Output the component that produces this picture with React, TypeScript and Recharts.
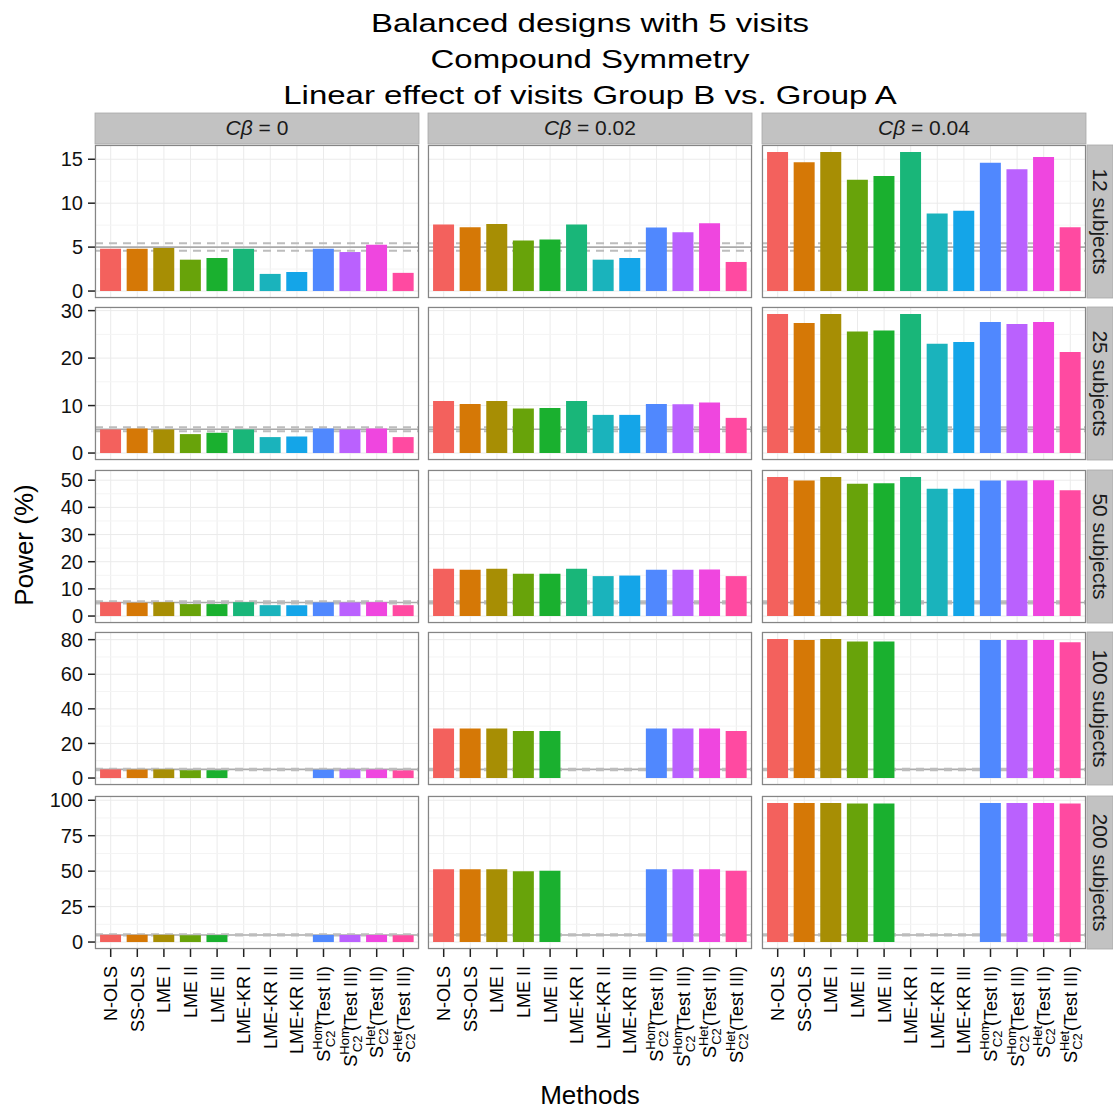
import React from 'react';
import { BarChart, Bar, XAxis, YAxis, CartesianGrid, ReferenceLine, Cell } from 'recharts';

// methods on the x axis (S_C2^xxx keys are drawn with super/subscripts)
const methods = [
  'N-OLS', 'SS-OLS', 'LME I', 'LME II', 'LME III',
  'LME-KR I', 'LME-KR II', 'LME-KR III',
  'S_C2^Hom (Test II)', 'S_C2^Hom (Test III)', 'S_C2^Het (Test II)', 'S_C2^Het (Test III)',
];
const colors = [
  '#F3615D', '#D57806', '#A78E04', '#68A30A', '#1AB02F', '#19B679',
  '#1AB3BC', '#14A5E8', '#5088FE', '#BA61FE', '#EF46DF', '#FF4AA1',
];

const effects = ['0', '0.02', '0.04'];
const subjects = ['12 subjects', '25 subjects', '50 subjects', '100 subjects', '200 subjects'];

// power (%) per facet
const p12_0 = [4.81, 4.81, 4.89, 3.57, 3.76, 4.81, 1.95, 2.18, 4.81, 4.44, 5.26, 2.07];
const p12_2 = [7.56, 7.26, 7.63, 5.75, 5.86, 7.56, 3.57, 3.76, 7.22, 6.69, 7.71, 3.31];
const p12_4 = [15.83, 14.66, 15.83, 12.67, 13.08, 15.83, 8.83, 9.14, 14.59, 13.87, 15.26, 7.26];
const p25_0 = [4.97, 5.17, 4.97, 3.99, 4.27, 4.97, 3.36, 3.5, 5.17, 4.97, 5.17, 3.36];
const p25_2 = [10.98, 10.35, 10.98, 9.37, 9.51, 10.98, 8.04, 8.04, 10.35, 10.28, 10.63, 7.41];
const p25_4 = [29.3, 27.4, 29.3, 25.6, 25.8, 29.3, 23.0, 23.4, 27.6, 27.2, 27.6, 21.3];
const p50_0 = [5.1, 4.9, 5.1, 4.4, 4.4, 5.1, 4.0, 4.0, 5.0, 5.0, 5.1, 4.0];
const p50_2 = [17.4, 17.0, 17.4, 15.6, 15.6, 17.4, 14.7, 14.9, 17.0, 17.0, 17.1, 14.7];
const p50_4 = [51.2, 49.9, 51.2, 48.7, 48.9, 51.2, 46.9, 46.9, 49.9, 49.9, 50.0, 46.3];
const p100_0 = [5.0, 4.9, 5.0, 4.5, 4.5, null, null, null, 4.8, 4.9, 4.9, 4.4];
const p100_2 = [28.7, 28.7, 28.7, 27.2, 27.2, null, null, null, 28.7, 28.7, 28.7, 27.2];
const p100_4 = [80.4, 79.8, 80.4, 78.9, 78.9, null, null, null, 79.8, 79.8, 79.8, 78.5];
const p200_0 = [5.1, 5.1, 5.1, 4.8, 4.9, null, null, null, 5.0, 5.0, 5.0, 4.8];
const p200_2 = [51.4, 51.4, 51.4, 50.0, 50.2, null, null, null, 51.4, 51.4, 51.4, 50.2];
const p200_4 = [98.1, 98.1, 98.1, 97.7, 97.7, null, null, null, 98.1, 98.1, 98.1, 97.7];

const ticks12 = [0, 5, 10, 15];
const ticks25 = [0, 10, 20, 30];
const ticks50 = [0, 10, 20, 30, 40, 50];
const ticks100 = [0, 20, 40, 60, 80];
const ticks200 = [0, 25, 50, 75, 100];
const minor12 = [2.5, 7.5, 12.5];
const minor25 = [5, 15, 25];
const minor50 = [5, 15, 25, 35, 45];
const minor100 = [10, 30, 50, 70];
const minor200 = [12.5, 37.5, 62.5, 87.5];

// nominal level and its 95% band
const nominal = 5;
const nominalBand = [4.573, 5.427];

const rows = [
  { label: subjects[0], ticks: ticks12, minor: minor12, cols: [p12_0, p12_2, p12_4] },
  { label: subjects[1], ticks: ticks25, minor: minor25, cols: [p25_0, p25_2, p25_4] },
  { label: subjects[2], ticks: ticks50, minor: minor50, cols: [p50_0, p50_2, p50_4] },
  { label: subjects[3], ticks: ticks100, minor: minor100, cols: [p100_0, p100_2, p100_4] },
  { label: subjects[4], ticks: ticks200, minor: minor200, cols: [p200_0, p200_2, p200_4] },
];

const FONT = '"Liberation Sans", Arial, Helvetica, sans-serif';
const COL_X = [95, 428, 762];
const ROW_Y = [145, 307, 470, 632, 796];
const PW = 324;
const PH = 153;
const YW = 60;
const XH = 150;

const MethodTick = (props: any) => {
  const { x, y, payload } = props;
  const v: string = payload.value;
  const m = v.match(/^S_C2\^(\w+) (.*)$/);
  const supW = m ? (m[1] === 'Hom' ? 25 : 19) : 0;
  return (
    <g transform={`translate(${x},${y}) rotate(-90)`}>
      <text textAnchor="end" dy="0.36em" fontSize={18} fill="#000" fontFamily={FONT}>
        {m ? (
          <>
            <tspan>S</tspan>
            <tspan fontSize={13} dy={-8}>{m[1]}</tspan>
            <tspan fontSize={13} dx={-supW} dy={13}>C2</tspan>
            <tspan dx={(supW - 16) * 0.4 + 1} dy={-5}>{m[2]}</tspan>
          </>
        ) : v}
      </text>
    </g>
  );
};

function Panel({ values, ticks, minor, ri, ci }: any) {
  const rowMax = Math.max(...rows[ri].cols.flat().filter((d: any) => d != null));
  const domain = [-rowMax * 0.05, rowMax * 1.05];
  const showY = ci === 0;
  const showX = ri === rows.length - 1;
  const data = methods.map((m, i) => ({ method: m, power: values[i] }));
  const w = PW + (showY ? YW : 0);
  const h = PH + (showX ? XH : 0);
  const pos = { position: 'absolute' as const, left: 0, top: 0 };
  return (
    <div style={{ position: 'absolute', left: COL_X[ci] - (showY ? YW : 0), top: ROW_Y[ri], width: w, height: h }}>
      {/* background layer: grid and the nominal-level lines, kept under the bars */}
      <div style={pos}>
        <BarChart width={w} height={h} data={data} barCategoryGap="10%"
          margin={{ top: 0, right: 0, bottom: showX ? XH : 0, left: showY ? YW : 0 }}>
          <CartesianGrid stroke="#EBEBEB" />
          {minor.map((v: number) => (
            <ReferenceLine key={'m' + v} y={v} stroke="#F4F4F4" strokeWidth={1} />
          ))}
          <ReferenceLine y={nominal} stroke="#ABABAB" strokeWidth={1.6} />
          {nominalBand.map((v) => (
            <ReferenceLine key={'b' + v} y={v} stroke="#BDBDBD" strokeWidth={2} strokeDasharray="8 6" />
          ))}
          <XAxis dataKey="method" hide interval={0} padding={{ left: 2.4, right: 2.4 }} />
          <YAxis type="number" domain={domain} ticks={ticks} hide interval={0} />
          <Bar dataKey="power" fill="none" fillOpacity={0} isAnimationActive={false} />
        </BarChart>
      </div>
      <div style={pos}>
        <BarChart width={w} height={h} data={data} barCategoryGap="10%"
          margin={{ top: 0, right: 0, bottom: 0, left: 0 }}>
          <XAxis dataKey="method" hide={!showX} interval={0} height={showX ? XH : 0}
            padding={{ left: 2.4, right: 2.4 }} axisLine={false} tickSize={8} tickMargin={9}
            tickLine={{ stroke: '#222', strokeWidth: 1.5 }} tick={<MethodTick />} />
          <YAxis type="number" domain={domain} ticks={ticks} hide={!showY} width={showY ? YW : 0}
            interval={0} axisLine={false} tickSize={7} tickMargin={5}
            tickLine={{ stroke: '#222', strokeWidth: 1.5 }}
            tick={{ fill: '#111', fontSize: 20, fontFamily: FONT }} />
          <Bar dataKey="power" isAnimationActive={false}>
            {data.map((d, i) => <Cell key={d.method} fill={colors[i]} />)}
          </Bar>
        </BarChart>
      </div>
    </div>
  );
}

export default function App() {
  const titleLines = [
    'Balanced designs with 5 visits',
    'Compound Symmetry',
    'Linear effect of visits Group B vs. Group A',
  ];
  return (
    <div style={{ position: 'absolute', left: 0, top: 0, width: 1113, height: 1110, background: '#fff', fontFamily: FONT }}>
      <style>{'.recharts-surface { overflow: visible; }'}</style>
      {rows.map((r, ri) => r.cols.map((vals, ci) => (
        <Panel key={ri + '-' + ci} values={vals} ticks={r.ticks} minor={r.minor} ri={ri} ci={ci} />
      )))}
      <svg width={1113} height={1110} style={{ position: 'absolute', left: 0, top: 0, pointerEvents: 'none' }}
        fontFamily={FONT}>
        {titleLines.map((t, i) => (
          <text key={t} transform={`translate(590, ${32 + i * 36}) scale(1, 0.78)`} textAnchor="middle"
            fontSize={33} fill="#000">{t}</text>
        ))}
        {effects.map((e, ci) => (
          <g key={e}>
            <rect x={COL_X[ci]} y={113} width={PW} height={31} fill="#C2C2C2" stroke="#A8A8A8" strokeWidth={0.8} />
            <text x={COL_X[ci] + PW / 2} y={135} textAnchor="middle" fontSize={21} fill="#1a1a1a">
              <tspan fontStyle="italic">Cβ</tspan>
              <tspan> = {e}</tspan>
            </text>
          </g>
        ))}
        {rows.map((r, ri) => (
          <g key={r.label}>
            <rect x={1087} y={ROW_Y[ri]} width={26} height={PH} fill="#C2C2C2" stroke="#A8A8A8" strokeWidth={0.8} />
            <text transform={`translate(1093, ${ROW_Y[ri] + PH / 2}) rotate(90)`} textAnchor="middle"
              fontSize={21} fill="#1a1a1a">{r.label}</text>
            {COL_X.map((x) => (
              <rect key={x} x={x + 0.5} y={ROW_Y[ri] + 0.5} width={PW - 1} height={PH - 1}
                fill="none" stroke="#858585" strokeWidth={1.2} />
            ))}
          </g>
        ))}
        <text transform="translate(33, 545) rotate(-90)" textAnchor="middle" fontSize={26} fill="#000">Power (%)</text>
        <text x={590} y={1104} textAnchor="middle" fontSize={26} fill="#000">Methods</text>
      </svg>
    </div>
  );
}
